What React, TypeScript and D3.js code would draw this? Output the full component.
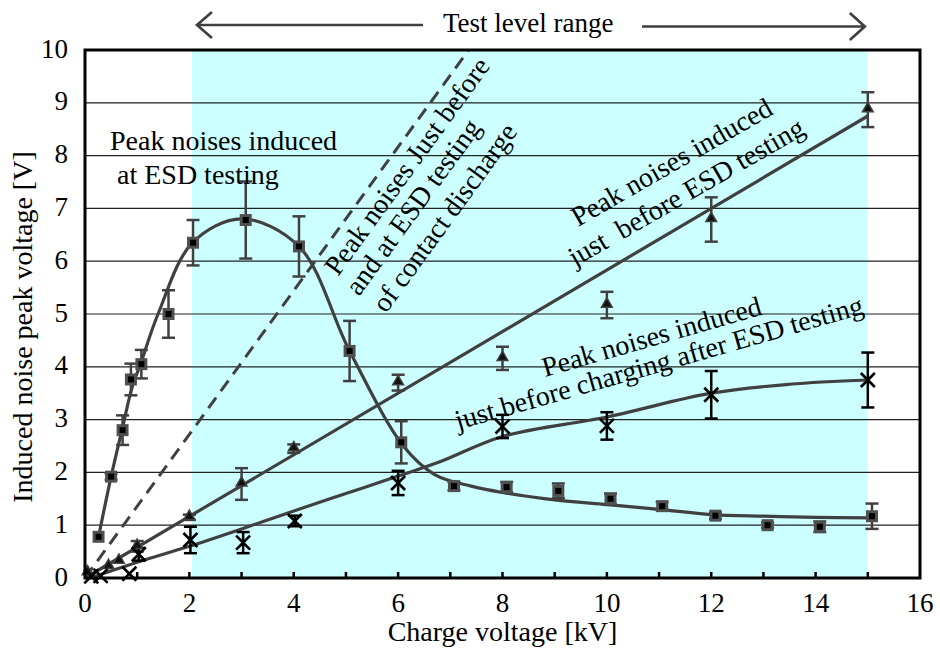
import React, { useRef, useEffect } from "react";
import * as d3 from "d3";

const W = 940;
const H = 651;

// Peak noises induced at ESD testing (squares)
const atEsdX = [0.26, 0.5, 0.72, 0.88, 1.08, 1.6, 2.07, 3.08, 4.1, 5.07, 6.06, 7.07, 8.08, 9.07, 10.07, 11.06, 12.08, 13.08, 14.08, 15.08];
const atEsdY = [0.78, 1.92, 2.8, 3.76, 4.05, 5.0, 6.35, 6.78, 6.28, 4.3, 2.57, 1.74, 1.72, 1.65, 1.5, 1.36, 1.18, 1.0, 0.97, 1.17];
const atEsdErr = [0, 0.06, 0.28, 0.3, 0.27, 0.45, 0.43, 0.73, 0.57, 0.57, 0.4, 0.08, 0.1, 0.14, 0.1, 0.08, 0.06, 0.05, 0.1, 0.24];
const atEsdFit = [
  [0.26, 0.78], [0.5, 1.92], [0.72, 2.85], [0.9, 3.6], [1.08, 4.1], [1.4, 5.0], [2.06, 6.35],
  [3.0, 6.8], [4.1, 6.28], [5.07, 4.3], [6.1, 2.5], [6.7, 1.96], [7.4, 1.74], [8, 1.62],
  [9, 1.48], [10, 1.39], [11, 1.3], [12, 1.2], [13, 1.17], [14, 1.15], [15.05, 1.14],
];

// Peak noises induced just before ESD testing (triangles)
const beforeX = [0.05, 0.45, 0.65, 1.0, 2.0, 3.0, 4.0, 6.0, 8.0, 10.0, 12.0, 15.0];
const beforeY = [0.1, 0.22, 0.32, 0.6, 1.15, 1.78, 2.45, 3.7, 4.16, 5.17, 6.79, 8.87];
const beforeErr = [0, 0, 0, 0.1, 0.05, 0.3, 0.08, 0.15, 0.22, 0.25, 0.42, 0.33];
const beforeFit = [[0, 0], [15, 8.75]];

// Peak noises induced just before charging after ESD testing (crosses)
const afterX = [0.12, 0.3, 0.85, 1.03, 2.02, 3.03, 4.02, 6.0, 8.0, 10.0, 12.0, 15.0];
const afterY = [0.03, 0.04, 0.08, 0.45, 0.72, 0.67, 1.08, 1.8, 2.87, 2.88, 3.47, 3.75];
const afterErr = [0, 0, 0, 0.12, 0.25, 0.2, 0.1, 0.23, 0.22, 0.26, 0.45, 0.52];
const afterFit = [
  [0.1, 0], [1, 0.3], [2, 0.6], [3, 0.93], [4, 1.27], [5, 1.6], [6, 1.93], [6.8, 2.2],
  [8, 2.68], [10, 3.05], [12, 3.5], [13.5, 3.67], [15, 3.75],
];

// contact discharge reference (dashed)
const contactLine = [[0, 0], [7.35, 10]];

const testRange = [2.05, 15];
const xTicks = [0, 2, 4, 6, 8, 10, 12, 14, 16];
const xMinorTicks = d3.range(1, 16);
const yTicks = [0, 1, 2, 3, 4, 5, 6, 7, 8, 9, 10];

const App = () => {
  const svgRef = useRef<SVGSVGElement>(null);

  useEffect(() => {
    const svg = d3.select(svgRef.current);
    svg.selectAll("*").remove();

    const font = "Liberation Serif, DejaVu Serif, serif";
    const grey = "#404040";
    const x = d3.scaleLinear().domain([0, 16]).range([85, 920]);
    const y = d3.scaleLinear().domain([0, 10]).range([578, 50]);

    // test level band
    svg
      .append("rect")
      .attr("x", x(testRange[0]))
      .attr("y", y(10))
      .attr("width", x(testRange[1]) - x(testRange[0]))
      .attr("height", y(0) - y(10))
      .attr("fill", "#ccffff");

    // grid lines
    svg
      .append("g")
      .selectAll("line")
      .data(yTicks.filter((v) => v > 0 && v < 10))
      .join("line")
      .attr("x1", x(0))
      .attr("x2", x(16))
      .attr("y1", (d) => y(d))
      .attr("y2", (d) => y(d))
      .attr("stroke", "#222")
      .attr("stroke-width", 1.2);

    // x ticks (inside)
    svg
      .append("g")
      .selectAll("line")
      .data(xMinorTicks)
      .join("line")
      .attr("x1", (d) => x(d))
      .attr("x2", (d) => x(d))
      .attr("y1", y(0))
      .attr("y2", y(0) - 6)
      .attr("stroke", "#000")
      .attr("stroke-width", 2.5);

    const line = d3
      .line<number[]>()
      .x((d) => x(d[0]))
      .y((d) => y(d[1]));

    // dashed reference
    svg
      .append("path")
      .attr("d", line(contactLine))
      .attr("fill", "none")
      .attr("stroke", grey)
      .attr("stroke-width", 3)
      .attr("stroke-dasharray", "13,8");

    // fitted curves
    const smooth = d3
      .line<number[]>()
      .x((d) => x(d[0]))
      .y((d) => y(d[1]))
      .curve(d3.curveCatmullRom.alpha(0.5));
    [atEsdFit, afterFit].forEach((pts) =>
      svg
        .append("path")
        .attr("d", smooth(pts))
        .attr("fill", "none")
        .attr("stroke", grey)
        .attr("stroke-width", 3.2)
    );
    svg
      .append("path")
      .attr("d", line(beforeFit))
      .attr("fill", "none")
      .attr("stroke", grey)
      .attr("stroke-width", 3.2);

    // error bars
    const errorBars = (xs: number[], ys: number[], es: number[], color: string) => {
      const g = svg.append("g").attr("stroke", color).attr("stroke-width", 2.5);
      xs.forEach((xv, i) => {
        const e = es[i];
        if (!e) return;
        const cx = x(xv);
        g.append("line").attr("x1", cx).attr("x2", cx).attr("y1", y(ys[i] - e)).attr("y2", y(ys[i] + e));
        [ys[i] - e, ys[i] + e].forEach((v) =>
          g.append("line").attr("x1", cx - 6.5).attr("x2", cx + 6.5).attr("y1", y(v)).attr("y2", y(v))
        );
      });
    };
    errorBars(atEsdX, atEsdY, atEsdErr, grey);
    errorBars(beforeX, beforeY, beforeErr, grey);
    errorBars(afterX, afterY, afterErr, "#000");

    // markers
    svg
      .append("g")
      .selectAll("rect")
      .data(atEsdX)
      .join("rect")
      .attr("x", (d) => x(d) - 4.5)
      .attr("y", (d, i) => y(atEsdY[i]) - 4.5)
      .attr("width", 9)
      .attr("height", 9)
      .attr("fill", "#000")
      .attr("stroke", "#505050")
      .attr("stroke-width", 3);

    const tri = d3.symbol().type(d3.symbolTriangle).size(50);
    svg
      .append("g")
      .selectAll("path")
      .data(beforeX)
      .join("path")
      .attr("d", tri)
      .attr("transform", (d, i) => `translate(${x(d)},${y(beforeY[i]) - 1})`)
      .attr("fill", "#111")
      .attr("stroke", grey)
      .attr("stroke-width", 1.5);

    const crosses = svg.append("g").attr("stroke", "#000").attr("stroke-width", 2.6);
    afterX.forEach((xv, i) => {
      const cx = x(xv);
      const cy = y(afterY[i]);
      crosses.append("line").attr("x1", cx - 7).attr("x2", cx + 7).attr("y1", cy - 7).attr("y2", cy + 7);
      crosses.append("line").attr("x1", cx - 7).attr("x2", cx + 7).attr("y1", cy + 7).attr("y2", cy - 7);
    });

    // frame
    svg
      .append("rect")
      .attr("x", x(0))
      .attr("y", y(10))
      .attr("width", x(16) - x(0))
      .attr("height", y(0) - y(10))
      .attr("fill", "none")
      .attr("stroke", "#000")
      .attr("stroke-width", 3);

    // tick labels
    svg
      .append("g")
      .selectAll("text")
      .data(xTicks)
      .join("text")
      .attr("x", (d) => x(d))
      .attr("y", 612)
      .attr("text-anchor", "middle")
      .style("font-family", font)
      .attr("font-size", 27)
      .text((d) => d);
    svg
      .append("g")
      .selectAll("text")
      .data(yTicks)
      .join("text")
      .attr("x", 68)
      .attr("y", (d) => y(d) + 7.5)
      .attr("text-anchor", "end")
      .style("font-family", font)
      .attr("font-size", 27)
      .text((d) => d);

    // axis titles
    svg
      .append("text")
      .attr("x", (x(0) + x(16)) / 2)
      .attr("y", 641)
      .attr("text-anchor", "middle")
      .style("font-family", font)
      .attr("font-size", 28)
      .text("Charge voltage [kV]");
    svg
      .append("text")
      .attr("transform", "translate(32,327) rotate(-90)")
      .attr("text-anchor", "middle")
      .style("font-family", font)
      .attr("font-size", 28)
      .text("Induced noise peak voltage [V]");

    // annotations
    const note = (lines: [string, number, number][], angle: number) =>
      lines.forEach(([t, tx, ty]) =>
        svg
          .append("text")
          .attr("transform", `translate(${tx},${ty}) rotate(${angle})`)
          .style("font-family", font)
          .attr("font-size", 28)
          .style("white-space", "pre")
          .text(t)
      );
    note([["Peak noises induced", 110, 150], ["at ESD testing", 117, 184]], 0);
    note(
      [
        ["Peak noises Just before", 338, 277],
        ["and at ESD testing", 359, 297],
        ["of contact discharge", 386, 314],
      ],
      -54
    );
    note([["Peak noises induced", 578, 227], ["just  before ESD testing", 575, 267]], -30);
    note(
      [["Peak noises induced", 545, 377], ["just before charging after ESD testing", 458, 430]],
      -16
    );

    // test level range arrows
    const ay = 25;
    const lx = x(testRange[0]) + 5;
    const rx = x(testRange[1]) - 3;
    const arrows = svg.append("g").attr("stroke", grey).attr("stroke-width", 2.7).attr("fill", "none");
    arrows.append("path").attr("d", `M${lx + 15},${ay - 13} L${lx},${ay} L${lx + 15},${ay + 13} M${lx},${ay} L423,${ay}`);
    arrows.append("path").attr("d", `M${rx - 15},${ay - 12} L${rx},${ay + 1.5} L${rx - 15},${ay + 15} M${rx},${ay + 1.5} L642,${ay + 1.5}`);
    svg
      .append("text")
      .attr("x", 443)
      .attr("y", 32)
      .style("font-family", font)
      .attr("font-size", 27)
      .text("Test level range");
  }, []);

  return (
    <svg
      ref={svgRef}
      width={W}
      height={H}
      style={{ position: "absolute", left: 0, top: 0, background: "#fff" }}
    ></svg>
  );
};

export default App;
